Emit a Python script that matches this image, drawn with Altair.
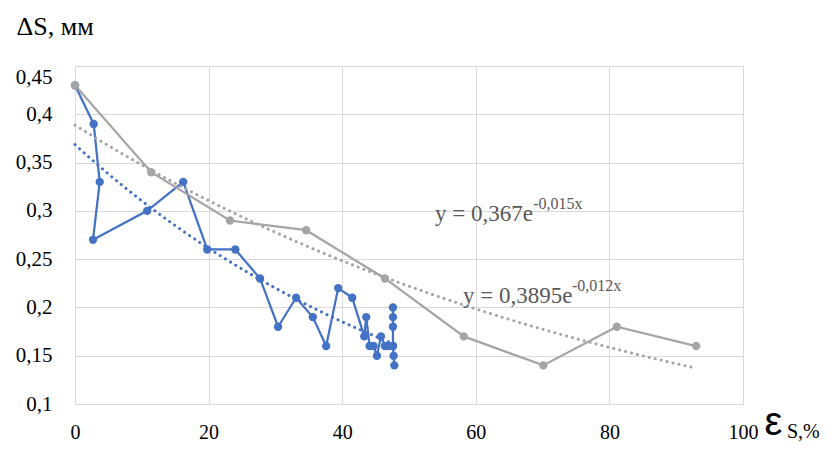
import altair as alt
import numpy as np
import pandas as pd

# ---- data ----
blue_x = [0, 2.8, 3.7, 2.7, 10.8, 16.2, 19.8, 24.0, 27.7, 30.4, 33.1, 35.6, 37.6,
          39.4, 41.5, 43.3, 43.6, 44.1, 44.7, 45.2, 45.8, 46.4, 46.9, 47.6,
          47.6, 47.6, 47.6, 47.6, 47.7, 47.8]
blue_y = [0.43, 0.39, 0.33, 0.27, 0.30, 0.33, 0.26, 0.26, 0.23, 0.18, 0.21, 0.19, 0.16,
          0.22, 0.21, 0.17, 0.19, 0.16, 0.16, 0.15, 0.17, 0.16, 0.16, 0.16,
          0.20, 0.19, 0.18, 0.16, 0.15, 0.14]
gray_x = [0, 11.4, 23.2, 34.6, 46.4, 58.2, 70.1, 81.1, 93.0]
gray_y = [0.43, 0.34, 0.29, 0.28, 0.23, 0.17, 0.14, 0.18, 0.16]

series_names = ["blue", "gray"]
series_colors = ["#4472C4", "#A5A5A5"]

x_ticks = [0, 20, 40, 60, 80, 100]
y_ticks = [0.1, 0.15, 0.2, 0.25, 0.3, 0.35, 0.4, 0.45]

y_title = "ΔS, мм"
x_title = "ε"
x_sub = ["S,%"]

eq_main = ["y = 0,367e", "y = 0,3895e"]
eq_main_x = [53.9, 58.1]
eq_main_y = [0.290, 0.205]
eq_sup = ["-0,015x", "-0,012x"]
eq_sup_x = [68.6, 74.4]
eq_sup_y = [0.3024, 0.2167]

# ---- tables ----
rows = []
for i, (xv, yv) in enumerate(zip(blue_x, blue_y)):
    rows.append({"series": series_names[0], "idx": i, "x": xv, "y": yv})
for i, (xv, yv) in enumerate(zip(gray_x, gray_y)):
    rows.append({"series": series_names[1], "idx": i, "x": xv, "y": yv})
df = pd.DataFrame(rows)

# exponential trend lines (least squares on ln y, as the spreadsheet does)
trend_rows = []
for name, xs, ys in [(series_names[0], blue_x, blue_y), (series_names[1], gray_x, gray_y)]:
    xs_a = np.asarray(xs, float)
    b, ln_a = np.polyfit(xs_a, np.log(np.asarray(ys, float)), 1)
    for xv in np.linspace(xs_a.min(), xs_a.max(), 60):
        trend_rows.append({"series": name, "x": float(xv), "y": float(np.exp(ln_a + b * xv))})
trend_df = pd.DataFrame(trend_rows)

eq_main_df = pd.DataFrame({"t": eq_main, "x": eq_main_x, "y": eq_main_y})
eq_sup_df = pd.DataFrame({"t": eq_sup, "x": eq_sup_x, "y": eq_sup_y})
sub_df = pd.DataFrame({"t": x_sub})

serif = "Liberation Serif"

x_enc = alt.X(
    "x:Q",
    scale=alt.Scale(domain=[0, 100], nice=False, zero=False),
    axis=alt.Axis(
        values=x_ticks, format="d", grid=True, gridColor="#D9D9D9", domain=False,
        ticks=False, labelFlush=False, labelFont=serif, labelFontSize=20,
        labelColor="#000000", labelPadding=18, title=x_title,
        titleFont="Liberation Sans", titleFontSize=40,
        titleFontWeight="normal", titleColor="#000000", titleX=698, titleY=30,
        titleAlign="center", titleBaseline="alphabetic",
    ),
)
y_enc = alt.Y(
    "y:Q",
    scale=alt.Scale(domain=[0.1, 0.45], nice=False, zero=False),
    axis=alt.Axis(
        values=y_ticks, labelExpr="replace(format(datum.value, '.2~f'), '.', ',')",
        grid=True, gridColor="#D9D9D9", domain=False, ticks=False, labelFlush=False,
        labelBaseline={"condition": {"test": "datum.value > 0.44", "value": "top"}, "value": "middle"},
        labelFont=serif, labelFontSize=21, labelColor="#000000", labelPadding=23,
        title=y_title, titleAngle=0, titleAlign="left", titleBaseline="alphabetic",
        titleX=-59, titleY=-32, titleFont=serif, titleFontSize=26,
        titleFontWeight="normal", titleColor="#000000",
    ),
)
color_enc = alt.Color("series:N", scale=alt.Scale(domain=series_names, range=series_colors), legend=None)

lines = alt.Chart(df).mark_line(
    strokeWidth=2.25,
    point=alt.OverlayMarkDef(filled=True, size=70, opacity=1),
).encode(x=x_enc, y=y_enc, color=color_enc, order="idx:Q")

trend = alt.Chart(trend_df).mark_line(
    strokeWidth=3, strokeDash=[0.1, 6], strokeCap="round"
).encode(x="x:Q", y="y:Q", color=color_enc)

eq1 = alt.Chart(eq_main_df).mark_text(
    font=serif, fontSize=23, color="#595959", align="left", baseline="alphabetic"
).encode(x="x:Q", y="y:Q", text="t:N")
eq2 = alt.Chart(eq_sup_df).mark_text(
    font=serif, fontSize=16, color="#595959", align="left", baseline="alphabetic"
).encode(x="x:Q", y="y:Q", text="t:N")

sub = alt.Chart(sub_df).mark_text(
    font=serif, fontSize=20, color="#000000", align="left", baseline="alphabetic"
).encode(x=alt.value(712), y=alt.value(372), text="t:N")

chart = alt.layer(lines, trend, eq1, eq2, sub).properties(
    width=668, height=338,
    autosize=alt.AutoSizeParams(type="none"),
    padding={"left": 67, "top": 58, "right": 78, "bottom": 38},
).configure_view(stroke="#D9D9D9", strokeWidth=1).configure(background="white")

chart.save("out.html", embed_options={"renderer": "svg", "actions": False})
